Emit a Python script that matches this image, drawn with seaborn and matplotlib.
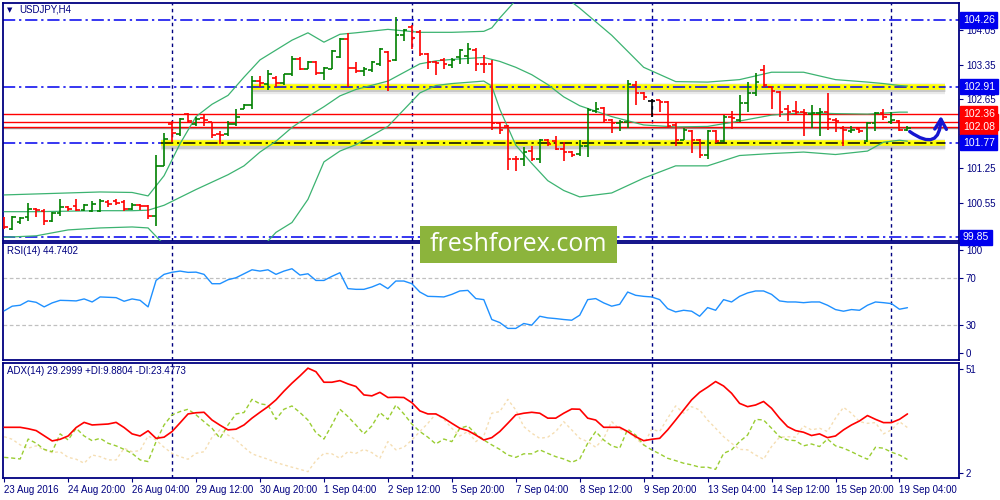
import matplotlib
matplotlib.use("Agg")
import matplotlib.pyplot as plt
import seaborn as sns
from matplotlib.patches import Rectangle
import matplotlib.transforms as mtransforms

# ---- OHLC of USDJPY H4, bar 0 = 23 Aug 2016 12:00 ----
opens = [100.24, 100.02, 100.16, 100.26, 100.43, 100.39, 100.19, 100.34, 100.46, 100.49,
         100.41, 100.39, 100.39, 100.56, 100.58, 100.56, 100.43, 100.51, 100.49, 100.29,
         101.30, 102.15, 101.94, 102.35, 102.15, 102.28, 102.18, 101.94, 101.94, 102.15,
         102.46, 102.53, 103.02, 102.96, 103.09, 102.98, 103.16, 103.46, 103.27, 103.40,
         103.19, 103.27, 103.50, 103.87, 103.29, 103.23, 103.24, 103.36, 103.61, 103.45,
         103.95, 104.12, 104.02, 103.58, 103.41, 103.45, 103.34, 103.50, 103.53, 103.66,
         103.37, 103.36, 102.17, 102.10, 101.44, 101.43, 101.61, 101.44, 101.82, 101.80,
         101.64, 101.59, 101.55, 101.71, 102.42, 102.47, 102.24, 102.17, 102.20, 102.94,
         102.78, 102.61, 102.63, 102.59, 102.13, 101.83, 102.00, 101.83, 101.53, 102.00,
         101.80, 102.30, 102.24, 102.57, 102.78, 103.25, 102.90, 102.80, 102.45, 102.42,
         102.40, 102.36, 102.37, 102.40, 102.24, 102.07, 102.00, 102.05, 101.80, 102.17,
         102.37, 102.20, 102.22, 102.03]
highs = [100.26, 100.29, 100.26, 100.54, 100.44, 100.43, 100.36, 100.63, 100.49, 100.62,
         100.53, 100.58, 100.62, 100.60, 100.62, 100.60, 100.55, 100.53, 100.51, 101.52,
         101.97, 102.21, 102.28, 102.37, 102.30, 102.33, 102.19, 102.01, 102.22, 102.45,
         102.55, 103.13, 103.13, 103.24, 103.13, 103.16, 103.52, 103.50, 103.43, 103.43,
         103.31, 103.65, 103.90, 104.00, 103.41, 103.31, 103.43, 103.70, 103.63, 104.33,
         104.08, 104.15, 104.05, 103.60, 103.43, 103.48, 103.48, 103.68, 103.80, 103.70,
         103.55, 103.45, 102.18, 102.13, 101.49, 101.68, 101.71, 101.84, 101.84, 101.91,
         101.78, 101.61, 101.83, 102.47, 102.59, 102.49, 102.25, 102.24, 103.05, 103.03,
         102.79, 102.65, 102.64, 102.61, 102.20, 102.07, 102.03, 101.84, 102.02, 102.02,
         102.34, 102.42, 102.74, 103.01, 103.18, 103.35, 102.91, 102.81, 102.54, 102.61,
         102.45, 102.54, 102.47, 102.78, 102.27, 102.11, 102.11, 102.09, 102.18, 102.40,
         102.45, 102.40, 102.24, 102.10]
lows = [100.02, 99.99, 100.12, 100.19, 100.26, 100.09, 100.16, 100.29, 100.39, 100.39,
        100.39, 100.37, 100.37, 100.46, 100.51, 100.39, 100.41, 100.41, 100.22, 100.07,
        101.29, 101.78, 101.91, 102.20, 102.11, 102.11, 101.86, 101.74, 101.91, 102.10,
        102.45, 102.45, 102.91, 102.84, 102.91, 102.94, 103.13, 103.25, 103.26, 103.15,
        103.04, 103.26, 103.48, 102.91, 103.19, 103.13, 103.21, 103.33, 102.82, 103.43,
        103.83, 103.67, 103.52, 103.27, 103.15, 103.27, 103.29, 103.36, 103.36, 103.22,
        103.18, 102.03, 101.95, 101.22, 101.19, 101.29, 101.39, 101.36, 101.71, 101.63,
        101.39, 101.48, 101.51, 101.47, 102.37, 102.17, 101.97, 102.00, 102.07, 102.54,
        102.64, 102.29, 102.39, 102.07, 101.70, 101.82, 101.56, 101.46, 101.43, 101.76,
        101.78, 102.05, 102.20, 102.40, 102.71, 102.91, 102.45, 102.29, 102.22, 102.34,
        101.91, 102.07, 101.90, 102.03, 101.98, 101.70, 101.97, 101.97, 101.78, 102.00,
        102.24, 102.15, 102.00, 102.00]
closes = [100.06, 100.26, 100.25, 100.43, 100.41, 100.19, 100.34, 100.46, 100.43, 100.41,
          100.51, 100.53, 100.58, 100.53, 100.54, 100.43, 100.51, 100.49, 100.29, 101.30,
          101.84, 101.96, 102.25, 102.21, 102.26, 102.24, 101.93, 101.93, 102.15, 102.30,
          102.53, 103.03, 102.98, 103.16, 102.99, 103.16, 103.46, 103.27, 103.40, 103.19,
          103.29, 103.63, 103.88, 103.29, 103.23, 103.26, 103.41, 103.67, 103.43, 103.95,
          104.06, 103.90, 103.58, 103.40, 103.39, 103.36, 103.45, 103.65, 103.68, 103.37,
          103.36, 102.17, 102.02, 101.44, 101.43, 101.59, 101.43, 101.83, 101.75, 101.64,
          101.59, 101.53, 101.71, 102.44, 102.45, 102.24, 102.17, 102.20, 102.96, 102.78,
          102.69, 102.61, 102.60, 102.10, 101.83, 102.03, 101.83, 101.53, 102.00, 101.80,
          102.30, 102.27, 102.57, 102.78, 103.01, 102.94, 102.81, 102.40, 102.40, 102.40,
          102.37, 102.37, 102.40, 102.25, 102.22, 102.03, 102.03, 102.00, 102.17, 102.37,
          102.29, 102.24, 102.03, 102.07]

# ---- Bollinger bands, read at these bars ----
band_bars = [0, 4, 8, 12, 16, 18, 20, 22, 24, 26, 28, 30, 32, 34, 36, 38, 40, 42, 44, 48,
             52, 54, 56, 60, 61, 62, 64, 66, 68, 70, 72, 76, 80, 84, 88, 92, 96, 100, 104,
             108, 110, 112, 113]
bb_upper = [100.71, 100.73, 100.75, 100.77, 100.76, 100.69, 101.10, 101.75, 102.30, 102.55,
            102.73, 103.10, 103.45, 103.65, 103.85, 104.00, 103.81, 103.97, 104.00, 104.07,
            104.01, 104.01, 104.01, 104.03, 104.10, 104.30, 104.66, 104.85, 104.90, 104.75,
            104.50, 103.95, 103.30, 103.01, 103.00, 103.05, 103.20, 103.20, 103.05, 103.00,
            102.97, 102.93, 102.92]
bb_middle = [100.37, 100.37, 100.38, 100.39, 100.39, 100.40, 100.50, 100.66, 100.82, 100.97,
             101.12, 101.30, 101.58, 101.80, 102.08, 102.30, 102.50, 102.72, 102.85, 103.02,
             103.37, 103.43, 103.46, 103.50, 103.46, 103.42, 103.30, 103.15, 102.95, 102.70,
             102.52, 102.30, 102.13, 102.09, 102.10, 102.21, 102.33, 102.38, 102.36, 102.35,
             102.37, 102.39, 102.39]
bb_lower = [99.85, 99.88, 100.00, 100.04, 100.06, 100.04, 99.70, 99.30, 99.10, 99.05,
            99.15, 99.35, 99.60, 99.95, 100.15, 100.62, 101.38, 101.60, 101.73, 102.10,
            102.78, 102.93, 102.97, 103.02, 102.92, 102.45, 101.72, 101.35, 101.00, 100.80,
            100.67, 100.75, 101.05, 101.30, 101.30, 101.51, 101.55, 101.58, 101.53, 101.60,
            101.78, 101.82, 101.80]

rsi = [42, 46, 46.8, 50.5, 49.3, 45.4, 48.8, 51, 50.8, 50.5, 52.2, 49.6, 53.9, 53.6, 53.3,
       50.2, 52.2, 51, 45.4, 68, 73.2, 75, 76, 74.9, 75.1, 73.2, 65.2, 65.2, 68.6, 70.3,
       73.7, 77.1, 76, 77.1, 73.2, 76, 78, 72.6, 73.7, 68, 68, 71.5, 74.6, 61, 60.4, 60.4,
       62.4, 65.2, 61, 67.5, 67.5, 65.2, 58.1, 54.4, 54.2, 53.9, 56.1, 59, 59.5, 52.5, 51.6,
       34.6, 32.0, 27, 27, 31.2, 29.8, 37.4, 36, 35.4, 34.6, 34, 38.3, 51.6, 52.5, 48.8, 46,
       47.6, 58.1, 55.3, 54.4, 53.9, 51.6, 43.9, 41.1, 42.5, 41.7, 37.4, 44.8, 42.5, 51.6,
       49.6, 54.4, 57.3, 59, 59, 56.1, 50.5, 49.6, 49.6, 49, 49.6, 49.6, 46.8, 43.1, 41.7,
       43.1, 42.5, 46.8, 49.6, 49, 48.2, 43.4, 44.7]

adx = [23.6, 23.6, 23.6, 23.0, 22.2, 20.0, 17.8, 18.5, 19.9, 23.5, 25.7, 24.6, 24.8, 25, 25.7,
       23.5, 20.8, 19.9, 22.1, 18.9, 19.4, 21.8, 25.5, 29.3, 29.8, 30, 26.7, 24.5, 22.5, 22.8,
       24.6, 27.5, 30.0, 32.4, 35.3, 39, 42.4, 45.5, 48.8, 47.3, 42.8, 42.8, 43.5, 42.1, 41,
       37.4, 37, 38.5, 36.3, 36.4, 36.3, 34.1, 30.6, 29.3, 29.3, 27.5, 25.3, 23.2, 22.2, 20.3,
       18.2, 19.2, 21.8, 25.3, 28.9, 29.6, 30, 29.6, 27.5, 27.5, 29.6, 31.4, 31.3, 27.5, 26.7,
       23.6, 23.6, 23.6, 21.8, 19.6, 17.9, 18.5, 18.9, 22.5, 26.7, 31, 35.3, 38.5, 40.7, 43.1,
       41.2, 38.1, 33.8, 32.4, 33.1, 34.6, 31.7, 27.5, 23.9, 22.2, 21.5, 20.1, 20.8, 19.2, 19.9,
       22.5, 24.6, 26.3, 28.6, 27, 25.6, 25.6, 27, 29.3]
plus_di = [10.8, 10.5, 10.1, 18.6, 16.8, 14.2, 13.2, 20.8, 18.2, 23.2, 19.9, 17.9, 18.9, 16.8,
           15.7, 14.2, 12.5, 9.7, 9, 17.5, 24.6, 28.9, 30.3, 31.3, 28.9, 26, 23.2, 18.9, 24.6,
           29.3, 29.9, 35.5, 33.6, 33.1, 27, 31.3, 32.7, 29.9, 26.7, 21.3, 18.6, 24.6, 31.3,
           28.2, 24.6, 20.8, 24.2, 29.9, 27, 33.1, 29.3, 25, 21.8, 19.4, 16.5, 18.6, 17.5, 23.2,
           24.2, 20.8, 18.2, 16.1, 14.2, 11.8, 10.8, 12.3, 12.3, 14, 12.5, 11.1, 10.1, 8.7, 10.1,
           16.8, 21.8, 18.2, 15.7, 14.7, 22.8, 20.3, 16.1, 14, 12.3, 10.4, 9.4, 8.3, 7.6, 6.6,
           6.6, 5.7, 12.5, 14, 17.5, 20.3, 27, 26.7, 23.2, 19.6, 18.2, 17.9, 15.7, 16.5, 15.4,
           18.6, 15.7, 14.7, 13.2, 11.5, 10, 15.1, 14.7, 13, 11.8, 9.9]
minus_di = [19.6, 18.5, 16.1, 14.7, 15.7, 14, 12.8, 13.2, 10.8, 10, 8.3, 11.8, 11.1, 9.7, 9.7,
            14.7, 13.2, 13.7, 19.9, 18.2, 15.1, 12.5, 11.1, 10, 12.5, 13.2, 19.4, 22.5, 20.3,
            18.2, 15.1, 12.3, 11.1, 10, 8.6, 7.6, 6.6, 5.7, 4.7, 9.4, 12.5, 12.3, 10.4, 13.2,
            12.5, 14.2, 12.8, 10.4, 17.5, 14, 15.1, 18.2, 21.8, 25.3, 29.3, 27, 23.2, 19.9, 21.8,
            17.5, 19.9, 29.6, 30.3, 35.5, 31, 23.9, 21.1, 18.9, 19.4, 21.8, 26, 22.5, 18.9, 17.5,
            15.1, 18.9, 26, 22.8, 21.8, 18.9, 16.1, 22.8, 21.8, 27.5, 32.7, 29.6, 32.4, 31, 26.7,
            23.2, 19.6, 16.8, 14.2, 14, 11.8, 10, 15.4, 19.4, 19.6, 19.4, 24.2, 22.5, 23.2, 21.8,
            27.5, 32.1, 29.6, 26, 25.3, 25.6, 20.8, 22.5, 26, 23.5]

time_ticks = list(range(0, 113, 8))
time_labels = ["23 Aug 2016", "24 Aug 20:00", "26 Aug 04:00", "29 Aug 12:00", "30 Aug 20:00",
               "1 Sep 04:00", "2 Sep 12:00", "5 Sep 20:00", "7 Sep 04:00", "8 Sep 12:00",
               "9 Sep 20:00", "13 Sep 04:00", "14 Sep 12:00", "15 Sep 20:00", "19 Sep 04:00"]
week_starts = [21, 51, 81, 111]
price_ticks = [104.05, 103.35, 102.65, 101.95, 101.25, 100.55]
blue_levels = [104.26, 102.91, 101.77, 99.85]
red_levels = [102.19, 102.36, 102.08]

NAVY = "#000080"
BLUE = "#0000ee"
XLIM = (-0.15, 119.45)
DASHDOT = (0, (8, 2.5, 1.5, 2.5))

sns.set_theme(style="white")
plt.rcParams["font.family"] = ["Liberation Sans", "DejaVu Sans"]

fig = plt.figure(figsize=(10, 5), dpi=100)
ax = fig.add_axes([0.003, 0.518, 0.956, 0.476])
ax_rsi = fig.add_axes([0.003, 0.280, 0.956, 0.234])
ax_adx = fig.add_axes([0.003, 0.044, 0.956, 0.230])

for a in (ax, ax_rsi, ax_adx):
    a.set_facecolor("white")
    a.set_xlim(*XLIM)
    for s in a.spines.values():
        s.set_color(NAVY)
        s.set_linewidth(1.3)
    for w in week_starts:
        a.axvline(w, color=NAVY, lw=1, ls=(0, (2.5, 2.5)), zorder=1)
    a.yaxis.tick_right()
    a.tick_params(axis="y", colors=NAVY, labelsize=7, length=3, width=0.8, pad=2,
                  right=True, labelcolor=NAVY)
    a.set_ylabel("")
    a.set_xlabel("")

# ---- main price panel ----
ax.set_ylim(99.775, 104.605)
ax.set_xticks([])
ax.set_yticks(price_ticks)
ax.set_yticklabels([f"{p:.2f}" for p in price_ticks])

for lv in blue_levels:
    ax.axhline(lv, color=BLUE, lw=1.1, ls=DASHDOT, zorder=1)

# yellow support / resistance strips with a soft shadow
for lv, start in [(102.91, 31), (101.77, 19.6)]:
    ax.hlines(lv - 0.07, start, 117.7, color="0.35", lw=6, alpha=0.13, zorder=2)
    ax.hlines(lv - 0.04, start, 117.7, color="0.35", lw=5, alpha=0.22, zorder=2)
    ax.hlines(lv + 0.03, start, 117.7, color="0.35", lw=3, alpha=0.10, zorder=2)
    ax.hlines(lv, start, 117.7, color="#ffff00", lw=4, zorder=2.1)
ax.hlines(102.91, 31, 117.7, color=BLUE, lw=1.1, linestyles=[DASHDOT], zorder=2.2)
ax.hlines(101.77, 19.6, 117.7, color="black", lw=1.1, linestyles=[DASHDOT], zorder=2.2)

ax.axhline(102.065, color="0.6", lw=1, zorder=1.5)
for lv in red_levels:
    ax.axhline(lv, color="red", lw=1.0, zorder=1.6)

sns.lineplot(x=band_bars, y=bb_upper, ax=ax, color="#3cb371", lw=0.9, zorder=3)
sns.lineplot(x=band_bars, y=bb_middle, ax=ax, color="#3cb371", lw=0.9, zorder=3)
sns.lineplot(x=band_bars, y=bb_lower, ax=ax, color="#3cb371", lw=0.9, zorder=3)

bars = range(len(opens))
cols = ["#008000" if c > o else ("red" if c < o else "black") for o, c in zip(opens, closes)]
ax.vlines(bars, lows, highs, colors=cols, lw=1.2, zorder=4)
ax.hlines(opens, [b - 0.45 for b in bars], bars, colors=cols, lw=1.2, zorder=4)
ax.hlines(closes, bars, [b + 0.45 for b in bars], colors=cols, lw=1.2, zorder=4)

# hand-drawn forecast arrow
ax.annotate("", xy=(117.2, 102.37), xytext=(113.0, 102.03),
            arrowprops=dict(arrowstyle="->,head_length=0.6,head_width=0.35", color="#1515d0",
                            lw=2.4, connectionstyle="arc3,rad=1.0"), zorder=6)

ax.text(0.0065, 0.971, "▼", transform=ax.transAxes, fontsize=5, color=NAVY,
        ha="center", va="center", family="DejaVu Sans")
ax.text(0.0165, 0.971, "USDJPY,H4", transform=ax.transAxes, fontsize=7, color=NAVY,
        ha="left", va="center")

# price boxes on the right scale
tr = mtransforms.blended_transform_factory(ax.transAxes, ax.transData)
for lv in red_levels:
    ax.text(1.004, lv, f"{lv:.2f}", transform=tr, fontsize=7.5, color="white", ha="left",
            va="center", clip_on=False, zorder=7,
            bbox=dict(boxstyle="square,pad=0.25", fc="red", ec="red"))
for lv in blue_levels:
    ax.text(1.004, lv, f"{lv:.2f}", transform=tr, fontsize=7.5, color="white", ha="left",
            va="center", clip_on=False, zorder=7,
            bbox=dict(boxstyle="square,pad=0.25", fc=BLUE, ec=BLUE))

# ---- RSI panel ----
ax_rsi.set_ylim(0, 100)
ax_rsi.set_xticks([])
ax_rsi.set_yticks([94, 70, 30, 6])
ax_rsi.set_yticklabels(["100", "70", "30", "0"])
for lv in (70, 30):
    ax_rsi.axhline(lv, color="#c0c0c0", lw=0.9, ls=(0, (3, 2)), zorder=1)
sns.lineplot(x=list(bars), y=rsi, ax=ax_rsi, color="#1e90ff", lw=1.0, zorder=3)
ax_rsi.text(0.004, 0.932, "RSI(14) 44.7402", transform=ax_rsi.transAxes, fontsize=7,
            color=NAVY, ha="left", va="center")

# ---- ADX panel ----
ax_adx.set_ylim(2, 51)
ax_adx.set_yticks([48.4, 4.1])
ax_adx.set_yticklabels(["51", "2"])
sns.lineplot(x=list(bars), y=minus_di, ax=ax_adx, color="#f5deb3", lw=1.0,
             linestyle=(0, (2, 2)), zorder=2)
sns.lineplot(x=list(bars), y=plus_di, ax=ax_adx, color="#9acd32", lw=1.0,
             linestyle=(0, (3, 2)), zorder=3)
sns.lineplot(x=list(bars), y=adx, ax=ax_adx, color="red", lw=1.2, zorder=4)
ax_adx.text(0.004, 0.93, "ADX(14) 29.2999 +DI:9.8804 -DI:23.4773", transform=ax_adx.transAxes,
            fontsize=7, color=NAVY, ha="left", va="center")
ax_adx.set_xticks(time_ticks)
ax_adx.set_xticklabels(time_labels, ha="left")
ax_adx.tick_params(axis="x", colors=NAVY, labelsize=7, length=3, width=0.8, pad=2,
                   bottom=True, labelcolor=NAVY)

# watermark
fig.patches.append(Rectangle((0.420, 0.474), 0.197, 0.074, transform=fig.transFigure,
                             facecolor="#8cb43c", edgecolor="none", zorder=5))
fig.text(0.5185, 0.511, "freshforex.com", color="white", fontsize=18, ha="center",
         va="center", family=["Open Sans", "DejaVu Sans"], zorder=6)

fig.savefig("out.png", dpi=100, facecolor="white")
